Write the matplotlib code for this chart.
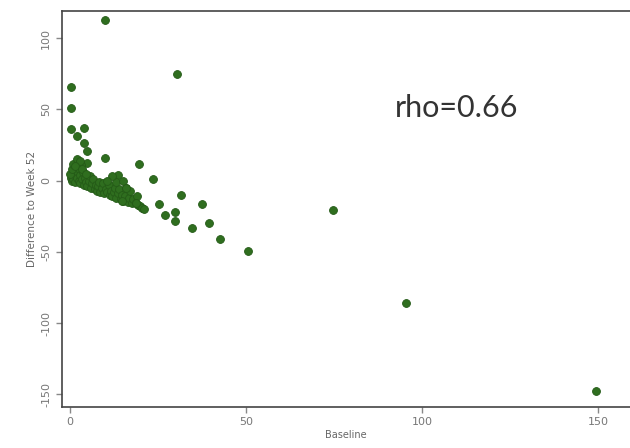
import numpy as np
import matplotlib
matplotlib.use("Agg")
import matplotlib.pyplot as plt

# ---- data (Baseline vs difference to week 52) ----
outlier_x = [10, 30.4, 0.3, 0.3, 0.3, 4, 2, 4, 4.8, 10, 19.6, 4.8, 13.6, 23.6,
             31.5, 25.3, 37.5, 27, 29.8, 29.8, 34.7, 39.5, 42.6, 50.6, 74.7, 95.5, 149.4]
outlier_y = [112.6, 74.8, 66, 51, 36.4, 37, 31, 26.6, 21, 16, 11.9, 12.6, 4.2, 1.4,
             -9.8, -16.1, -16.1, -23.8, -21.7, -28.7, -33.6, -30.1, -41.3, -49.7, -20.3, -86, -147.6]

cluster_x = [0.2, 0.5, 0.8, 1, 1.2, 1.5, 1.8, 2, 2.2, 2.5, 2.8, 3, 3.2, 3.5, 3.8, 4, 4.3,
             4.6, 5, 5.3, 5.6, 6, 6.3, 6.7, 7, 7.4, 7.8, 8, 8.3, 8.7, 9, 9.4, 9.8, 10.2,
             10.6, 11, 11.3, 11.7, 12, 12.4, 12.8, 13.2, 13.6, 14, 14.4, 14.8, 15.2, 15.6,
             16, 16.4, 16.8, 17.2, 17.6, 18, 18.8, 19.4, 20, 20.6, 21, 19, 13, 12, 15, 0,
             0.5, 1, 2, 3, 1.5, 3.5, 4.5, 10.5, 16, 14.8, 18.8]
cluster_y = [2, 0, 3, 1, 5, -1, 7, 2, 9, 0, 4, -2, 11, 1, 6, -3, 2,
             -1, -4, 0, 3, -5, -2, 1, -6, -3, -7, -4, -1, -8, -5, -2, -9, -6,
             -8, -3, -10, -7, -11, -8, -5, -12, -9, -6, -13, -10, -14, -11,
             -5, -15, -12, -7, -16, -13, -16, -17, -18, -19, -20, -11, -1, 3, 0, 5,
             8, 12, 15, 14, 10, 8, 5, 0, -5, -14, -16]

baseline = outlier_x + cluster_x
diff52 = outlier_y + cluster_y

xticks = [0, 50, 100, 150]
yticks = [-150, -100, -50, 0, 50, 100]

fig = plt.figure(figsize=(6.3, 4.48), dpi=100)
ax = fig.add_axes([0.098, 0.0915, 0.902, 0.8835])

ax.scatter(baseline, diff52, s=32, color="#2f6e1f", edgecolors="#245a17",
           linewidths=0.6, zorder=3)

ax.set_xlim(-2.3, 159)
ax.set_ylim(-159, 119)
ax.set_xticks(xticks)
ax.set_yticks(yticks)
ax.set_yticklabels([str(v) for v in yticks], rotation=90, va="center")

ax.tick_params(axis="both", labelsize=8, colors="#888888", length=4, width=1)
for lbl in ax.get_xticklabels() + ax.get_yticklabels():
    lbl.set_color("#777777")

for side in ["left", "bottom", "top"]:
    ax.spines[side].set_color("#444444")
    ax.spines[side].set_linewidth(1.2)
ax.spines["right"].set_visible(False)

ax.set_xlabel("Baseline", fontsize=7, color="#666666", labelpad=2)
ax.set_ylabel("Difference to Week 52", fontsize=7.5, color="#666666", labelpad=3)

ax.text(92.3, 51, "rho=0.66", fontsize=22, family="Lato", color="#333333",
        va="center", ha="left")

fig.savefig("out.png", dpi=100)
